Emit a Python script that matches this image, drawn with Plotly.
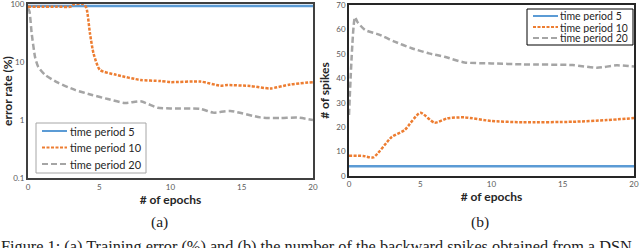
import plotly.graph_objects as go

# ---------- data ----------
# (a) training error rate (%)
err_t5_x = [0, 20]
err_t5_y = [92, 92]
err_t10_x = [0, 1, 2, 3, 3.2, 3.9, 4.1, 4.35, 4.6, 5.05, 6.2, 7.9, 9.3, 10, 12.1, 13.5, 14, 15.6, 17, 18.4, 20]
err_t10_y = [90, 90, 90, 90, 99, 99, 85, 31, 14, 7.3, 6.0, 4.9, 4.7, 4.5, 4.6, 3.9, 4.0, 3.85, 3.5, 4.1, 4.5]
err_t20_x = [0, 0.1, 0.26, 0.5, 0.72, 1.2, 2.1, 3.3, 4.5, 5.6, 6.8, 7.9, 9.1, 10, 12.1, 13, 14.2, 16.3, 17.7, 18.9, 20]
err_t20_y = [84, 75, 31, 12, 8.2, 6.0, 4.4, 3.3, 2.7, 2.3, 1.96, 2.1, 1.63, 1.58, 1.55, 1.34, 1.43, 1.11, 1.08, 1.1, 1.0]

# (b) number of backward spikes
spk_t5_x = [0, 20]
spk_t5_y = [4, 4]
spk_t10_x = [0, 1, 1.7, 3.0, 3.9, 5.0, 6.0, 6.9, 8.1, 10, 12.2, 15.7, 18.1, 20]
spk_t10_y = [8.3, 8.2, 7.6, 16, 18.8, 25.9, 21.8, 23.6, 24, 22.5, 22, 22.2, 22.9, 23.7]
spk_t20_x = [0, 0.42, 0.6, 1.12, 2.06, 3.2, 4.4, 5.6, 6.7, 8.1, 10, 12.2, 15.7, 17.4, 18.8, 20]
spk_t20_y = [25, 65, 63, 59.8, 58, 55, 52.3, 50.2, 48.8, 46.5, 46.1, 45.7, 45.4, 44.3, 45.3, 44.8]

series_names = ["time period 5", "time period 10", "time period 20"]
x_ticks = [0, 5, 10, 15, 20]
err_ticks = [0.1, 1, 10, 100]
err_tick_text = ["0.1", "1", "10", "100"]
spk_ticks = [0, 10, 20, 30, 40, 50, 60, 70]

# ---------- styles ----------
C_BLUE = "#5B9BD5"
C_ORANGE = "#ED7D31"
C_GRAY = "#A5A5A5"
W = 640
H = 248
FONT = "Lato"

def px(x):
    return x / W

def py(y):
    return 1 - y / H

fig = go.Figure()

styles = [(C_BLUE, "solid"), (C_ORANGE, "3px,1.5px"), (C_GRAY, "6px,3px")]
left_data = [(err_t5_x, err_t5_y), (err_t10_x, err_t10_y), (err_t20_x, err_t20_y)]
right_data = [(spk_t5_x, spk_t5_y), (spk_t10_x, spk_t10_y), (spk_t20_x, spk_t20_y)]

for (xs, ys), (c, d), n in zip(left_data, styles, series_names):
    fig.add_trace(go.Scatter(x=xs, y=ys, mode="lines", name=n, showlegend=False,
                             line=dict(color=c, dash=d, width=2.5, shape="spline", smoothing=0.6),
                             xaxis="x", yaxis="y"))
for (xs, ys), (c, d), n in zip(right_data, styles, series_names):
    fig.add_trace(go.Scatter(x=xs, y=ys, mode="lines", name=n, showlegend=False,
                             line=dict(color=c, dash=d, width=2.5, shape="spline", smoothing=0.6),
                             xaxis="x2", yaxis="y2"))

axis_common = dict(showgrid=False, zeroline=False, showline=True, mirror=True, automargin=False,
                   ticks="", ticklabeloverflow="allow",
                   tickfont=dict(family=FONT, size=8, color="#595959"))
title_font = dict(family=FONT, size=12, color="#262626")

fig.update_layout(
    width=W, height=H,
    margin=dict(l=0, r=0, t=0, b=0, pad=0),
    paper_bgcolor="white", plot_bgcolor="white",
    showlegend=False,
    xaxis=dict(domain=[px(28), px(313)], range=[0, 20], tickvals=x_ticks,
               linecolor="#404040", linewidth=2, anchor="y",
               title=dict(text="<b># of epochs</b>", font=title_font, standoff=0),
               **axis_common),
    yaxis=dict(domain=[py(178), py(4)], type="log", range=[-1, 2], tickvals=err_ticks,
               ticktext=err_tick_text, linecolor="#404040", linewidth=2, anchor="x",
               title=dict(text="<b>error rate (%)</b>", font=title_font, standoff=2),
               **axis_common),
    xaxis2=dict(domain=[px(349), px(634)], range=[0, 20], tickvals=x_ticks,
                linecolor="#262626", linewidth=1.5, anchor="y2",
                title=dict(text="<b># of epochs</b>", font=title_font, standoff=0),
                **axis_common),
    yaxis2=dict(domain=[py(176), py(5)], range=[0, 70], tickvals=spk_ticks,
                linecolor="#262626", linewidth=1.5, anchor="x2",
                title=dict(text="<b># of spikes</b>", font=title_font, standoff=4),
                **axis_common),
)

shapes = []
annotations = []

# legend (a): box + swatches + labels
shapes.append(dict(type="rect", xref="paper", yref="paper", x0=px(36), x1=px(146), y0=py(173), y1=py(123),
                   line=dict(color="#A6A6A6", width=1), fillcolor="white", layer="above"))
for i, ((c, d), n) in enumerate(zip(styles, series_names)):
    yy = 131 + 16.5 * i
    shapes.append(dict(type="line", xref="paper", yref="paper", x0=px(42), x1=px(67), y0=py(yy), y1=py(yy),
                       line=dict(color=c, dash=d, width=2), layer="above"))
    annotations.append(dict(xref="paper", yref="paper", x=px(68), y=py(yy), text=n, showarrow=False,
                            xanchor="left", yanchor="middle",
                            font=dict(family=FONT, size=11, color="#262626")))

# legend (b)
shapes.append(dict(type="rect", xref="paper", yref="paper", x0=px(527), x1=px(633), y0=py(45), y1=py(9),
                   line=dict(color="#000000", width=1), fillcolor="white", layer="above"))
for i, ((c, d), n) in enumerate(zip(styles, series_names)):
    yy = 16 + 11 * i
    shapes.append(dict(type="line", xref="paper", yref="paper", x0=px(533), x1=px(558), y0=py(yy), y1=py(yy),
                       line=dict(color=c, dash=d, width=2), layer="above"))
    annotations.append(dict(xref="paper", yref="paper", x=px(558), y=py(yy), text=n, showarrow=False,
                            xanchor="left", yanchor="middle", height=11,
                            font=dict(family=FONT, size=10.5, color="#262626")))

# sub-captions and figure caption
serif = dict(family="Liberation Serif", size=15.5, color="#222222")
annotations.append(dict(xref="paper", yref="paper", x=px(159), y=py(222), text="(a)", showarrow=False,
                        xanchor="center", yanchor="middle", font=serif))
annotations.append(dict(xref="paper", yref="paper", x=px(480), y=py(222), text="(b)", showarrow=False,
                        xanchor="center", yanchor="middle", font=serif))
annotations.append(dict(xref="paper", yref="paper", x=px(-1), y=py(246.5),
                        text="Figure 1: (a) Training error (%) and (b) the number of the backward spikes obtained from a DSN",
                        showarrow=False, xanchor="left", yanchor="middle",
                        font=dict(family="Liberation Serif", size=16.3, color="#222222")))

fig.update_layout(shapes=shapes, annotations=annotations)
fig.write_html("out.html", config={"displayModeBar": False},
               post_script="document.body.style.margin='0';document.body.style.overflow='hidden';")
